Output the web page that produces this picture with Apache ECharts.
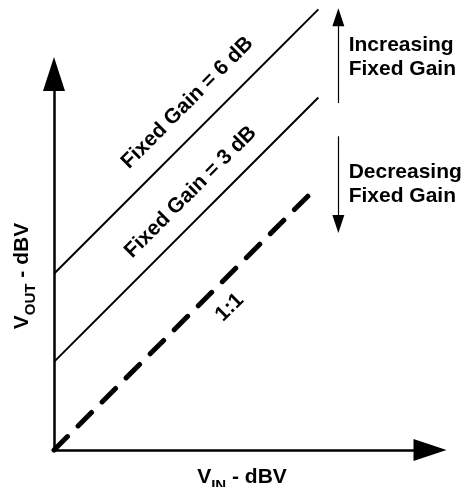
<!DOCTYPE html>
<html>
<head>
<meta charset="utf-8">
<script src="https://cdn.jsdelivr.net/npm/echarts@6/dist/echarts.min.js"></script>
<style>html,body{margin:0;padding:0;background:#fff}#c{width:462px;height:487px}</style>
</head>
<body>
<div id="c"></div>
<script>
// ---- data (dBV) ----
const vin = [0, 9];
const voutGain6 = [6, 15];
const voutGain3 = [3, 12];
const voutUnity = [0, 9];
const axisMax = 12.8;      // visible axis length (arrows)
const plotMax = 16;        // extended scale used for lines / annotations

const labelGain6 = 'Fixed Gain = 6 dB';
const labelGain3 = 'Fixed Gain = 3 dB';
const labelUnity = '1:1';
const labelInc = 'Increasing\nFixed Gain';
const labelDec = 'Decreasing\nFixed Gain';

const posGain6 = [4.54, 11.82];
const posGain3 = [4.65, 8.78];
const posUnity = [5.98, 4.85];
const posInc = [10.03, 13.38];
const posDec = [10.03, 9.05];

const incArrowX = [9.68, 9.68];
const incArrowY = [11.81, 14.73];
const decArrowX = [9.68, 9.68];
const decArrowY = [10.68, 7.69];

const FONT = "'Liberation Sans', Arial, sans-serif";
const PX = 29.375; // pixels per dB on both axes

function pairs(xs, ys) { return xs.map((x, i) => [x, ys[i]]); }

function textPoint(pos, text, rotate, position) {
  return {
    coord: pos,
    symbol: 'circle',
    symbolSize: 0,
    itemStyle: { color: 'rgba(0,0,0,0)' },
    label: {
      show: true,
      formatter: text,
      position: position,
      distance: 0,
      rotate: rotate,
      color: '#000',
      fontFamily: FONT,
      fontWeight: 'bold',
      fontSize: 21,
      lineHeight: 23.5,
      align: position === 'right' ? 'left' : 'center'
    }
  };
}

const nameRich = {
  v: { fontFamily: FONT, fontWeight: 'bold', fontSize: 21, color: '#000', lineHeight: 24, verticalAlign: 'top' },
  sub: { fontFamily: FONT, fontWeight: 'bold', fontSize: 15, color: '#000', lineHeight: 16, verticalAlign: 'top', padding: [11, 0, 0, 0] }
};

const hiddenAxis = {
  type: 'value', min: 0, max: plotMax, show: false,
  axisLine: { show: false }, axisTick: { show: false }, axisLabel: { show: false }, splitLine: { show: false }
};

const originX = 54, originY = 450;
const chart = echarts.init(document.getElementById('c'), null, { renderer: 'canvas' });
chart.setOption({
  animation: false,
  backgroundColor: '#fff',
  grid: [
    { left: originX, top: originY - axisMax * PX, width: axisMax * PX, height: axisMax * PX, outerBoundsMode: 'none', containLabel: false },
    { left: originX, top: originY - plotMax * PX, width: plotMax * PX, height: plotMax * PX, outerBoundsMode: 'none', containLabel: false }
  ],
  xAxis: [{
    gridIndex: 0, type: 'value', min: 0, max: axisMax,
    axisLine: { show: true, symbol: ['none', 'triangle'], symbolSize: [22, 33], lineStyle: { color: '#000', width: 2.5 } },
    axisTick: { show: false }, axisLabel: { show: false }, splitLine: { show: false },
    name: '{v|V}{sub|IN}{v| - dBV}',
    nameLocation: 'middle', nameGap: 17,
    nameTextStyle: { rich: nameRich }
  }, Object.assign({ gridIndex: 1 }, hiddenAxis)],
  yAxis: [{
    gridIndex: 0, type: 'value', min: 0, max: axisMax,
    axisLine: { show: true, symbol: ['none', 'triangle'], symbolSize: [22, 34], lineStyle: { color: '#000', width: 2.5 } },
    axisTick: { show: false }, axisLabel: { show: false }, splitLine: { show: false },
    name: '{v|V}{sub|OUT}{v| - dBV}',
    nameLocation: 'middle', nameGap: 18,
    nameTextStyle: { rich: nameRich, padding: [0, 28, 0, 0] }
  }, Object.assign({ gridIndex: 1 }, hiddenAxis)],
  series: [
    {
      type: 'line', xAxisIndex: 1, yAxisIndex: 1,
      data: pairs(vin, voutGain6), symbol: 'none', clip: false, silent: true,
      lineStyle: { color: '#000', width: 2 },
      markPoint: { silent: true, data: [textPoint(posGain6, labelGain6, 45, 'inside'), textPoint(posInc, labelInc, 0, 'right'), textPoint(posDec, labelDec, 0, 'right')] },
      markLine: {
        silent: true, symbol: ['none', 'triangle'], symbolSize: [12, 18],
        label: { show: false },
        lineStyle: { color: '#000', width: 1.2, type: 'solid' },
        data: [
          [{ coord: [incArrowX[0], incArrowY[0]] }, { coord: [incArrowX[1], incArrowY[1]] }],
          [{ coord: [decArrowX[0], decArrowY[0]] }, { coord: [decArrowX[1], decArrowY[1]] }]
        ]
      }
    },
    {
      type: 'line', xAxisIndex: 1, yAxisIndex: 1,
      data: pairs(vin, voutGain3), symbol: 'none', clip: false, silent: true,
      lineStyle: { color: '#000', width: 2 },
      markPoint: { silent: true, data: [textPoint(posGain3, labelGain3, 45, 'inside')] }
    },
    {
      type: 'line', xAxisIndex: 1, yAxisIndex: 1,
      data: pairs(vin, voutUnity), symbol: 'none', clip: false, silent: true,
      lineStyle: { color: '#000', width: 5, type: [19, 15], cap: 'round' },
      markPoint: { silent: true, data: [textPoint(posUnity, labelUnity, 45, 'inside')] }
    }
  ]
});
</script>
</body>
</html>
